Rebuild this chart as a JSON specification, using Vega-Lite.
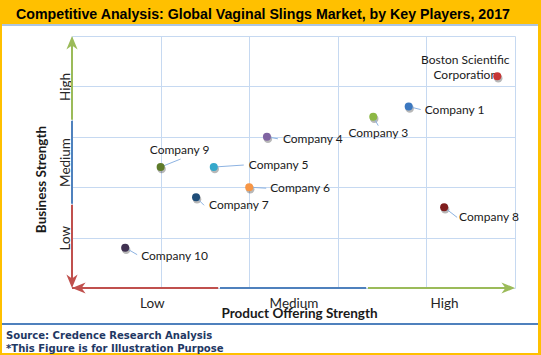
{
  "$schema": "https://vega.github.io/schema/vega-lite/v6.json",
  "width": 536,
  "height": 329,
  "autosize": {"type": "none"},
  "padding": {"left": 2, "top": 24, "right": 3, "bottom": 2},
  "background": "#FFC000",
  "config": {
    "view": {"fill": "white", "stroke": null},
    "text": {"font": "Lato", "fontSize": 12, "color": "#1a1a1a"}
  },
  "title": {
    "text": ["Source: Credence Research Analysis", "*This Figure is for Illustration Purpose"],
    "orient": "bottom",
    "anchor": "start",
    "frame": "group",
    "align": "left",
    "offset": -23,
    "dx": 4,
    "baseline": "top",
    "font": "DejaVu Sans Condensed",
    "fontSize": 11.2,
    "fontWeight": "bold",
    "color": "#1F3864",
    "lineHeight": 13
  },
  "datasets": {
    "companies": [
      {"name": "Boston Scientific\nCorporation", "x": 4.8, "y": 4.2},
      {"name": "Company 1", "x": 3.8, "y": 3.6},
      {"name": "Company 3", "x": 3.4, "y": 3.4},
      {"name": "Company 4", "x": 2.2, "y": 3.0},
      {"name": "Company 5", "x": 1.6, "y": 2.4},
      {"name": "Company 6", "x": 2.0, "y": 2.0},
      {"name": "Company 7", "x": 1.4, "y": 1.8},
      {"name": "Company 8", "x": 4.2, "y": 1.6},
      {"name": "Company 9", "x": 1.0, "y": 2.4},
      {"name": "Company 10", "x": 0.6, "y": 0.8}
    ],
    "arrows": [
      {"x": 0, "x2": 1.65, "y": 0, "y2": 0, "part": "low"},
      {"x": 1.67, "x2": 3.32, "y": 0, "y2": 0, "part": "medium"},
      {"x": 3.34, "x2": 4.9, "y": 0, "y2": 0, "part": "high"},
      {"x": 0, "x2": 0, "y": 0.05, "y2": 1.65, "part": "low"},
      {"x": 0, "x2": 0, "y": 1.67, "y2": 3.32, "part": "medium"},
      {"x": 0, "x2": 0, "y": 3.34, "y2": 4.9, "part": "high"}
    ],
    "heads": [
      {"x": 0, "y": 5, "dir": "up", "part": "high"},
      {"x": 5, "y": 0, "dir": "right", "part": "high"},
      {"x": 0, "y": 0, "dir": "down", "part": "low"},
      {"x": 0, "y": 0, "dir": "left", "part": "low"}
    ]
  },
  "resolve": {"axis": {"x": "independent", "y": "independent"}},
  "layer": [
    {
      "data": {"name": "companies"},
      "mark": {"type": "circle", "size": 72, "color": "black", "opacity": 0.28, "xOffset": 1, "yOffset": 2},
      "encoding": {
        "x": {
          "field": "x", "type": "quantitative",
          "scale": {"domain": [0, 5], "range": [70, 513], "nice": false, "zero": false},
          "axis": {
            "orient": "bottom", "offset": -65,
            "values": [0, 1, 2, 3, 4, 5],
            "labels": false, "domain": false, "title": null, "grid": false,
            "ticks": true, "tickSize": -252, "tickColor": "#C6D9F1", "tickWidth": 1
          }
        },
        "y": {
          "field": "y", "type": "quantitative",
          "scale": {"domain": [0, 5], "range": [264, 12], "nice": false, "zero": false},
          "axis": {
            "orient": "left", "offset": -70,
            "values": [0, 1, 2, 3, 4, 5],
            "labels": false, "domain": false, "title": null, "grid": false,
            "ticks": true, "tickSize": -443, "tickColor": "#C6D9F1", "tickWidth": 1
          }
        }
      }
    },
    {
      "data": {"values": [{}]},
      "mark": {"type": "rule", "color": "#4F81BD", "strokeWidth": 2},
      "encoding": {"y": {"datum": -0.714, "type": "quantitative", "axis": null}}
    },
    {
      "data": {"values": [{}]},
      "mark": {"type": "rule", "color": "#5B8BC5", "strokeWidth": 1},
      "encoding": {"y": {"datum": 5.218, "type": "quantitative", "axis": null}}
    },
    {
      "data": {"name": "companies"},
      "encoding": {
        "x": {"field": "x", "type": "quantitative", "axis": null},
        "y": {"field": "y", "type": "quantitative", "axis": null}
      },
      "layer": [
        {
          "transform": [{"filter": "indexof(datum.name, 'Boston') === 0"}],
          "mark": {"type": "text", "align": "center", "baseline": "middle", "dx": -32, "dy": -16.5, "lineBreak": "\n", "lineHeight": 15},
          "encoding": {"text": {"field": "name"}}
        },
        {
          "transform": [{"filter": "datum.name === 'Company 1'"}],
          "layer": [
            {"mark": {"type": "rule", "x2Offset": 12, "y2Offset": 3, "color": "#8DB3E2", "strokeWidth": 1}, "encoding": {"x2": {"field": "x"}, "y2": {"field": "y"}}},
            {"mark": {"type": "text", "align": "left", "baseline": "middle", "dx": 16, "dy": 3}, "encoding": {"text": {"field": "name"}}}
          ]
        },
        {
          "transform": [{"filter": "datum.name === 'Company 3'"}],
          "layer": [
            {"mark": {"type": "rule", "x2Offset": 5, "y2Offset": 9, "color": "#8DB3E2", "strokeWidth": 1}, "encoding": {"x2": {"field": "x"}, "y2": {"field": "y"}}},
            {"mark": {"type": "text", "align": "center", "baseline": "middle", "dx": 5, "dy": 16.5}, "encoding": {"text": {"field": "name"}}}
          ]
        },
        {
          "transform": [{"filter": "datum.name === 'Company 4'"}],
          "layer": [
            {"mark": {"type": "rule", "x2Offset": 11, "y2Offset": 2, "color": "#8DB3E2", "strokeWidth": 1}, "encoding": {"x2": {"field": "x"}, "y2": {"field": "y"}}},
            {"mark": {"type": "text", "align": "left", "baseline": "middle", "dx": 16, "dy": 2}, "encoding": {"text": {"field": "name"}}}
          ]
        },
        {
          "transform": [{"filter": "datum.name === 'Company 5'"}],
          "layer": [
            {"mark": {"type": "rule", "x2Offset": 30, "y2Offset": -2, "color": "#8DB3E2", "strokeWidth": 1}, "encoding": {"x2": {"field": "x"}, "y2": {"field": "y"}}},
            {"mark": {"type": "text", "align": "left", "baseline": "middle", "dx": 35, "dy": -2}, "encoding": {"text": {"field": "name"}}}
          ]
        },
        {
          "transform": [{"filter": "datum.name === 'Company 6'"}],
          "layer": [
            {"mark": {"type": "rule", "x2Offset": 17, "y2Offset": 1, "color": "#8DB3E2", "strokeWidth": 1}, "encoding": {"x2": {"field": "x"}, "y2": {"field": "y"}}},
            {"mark": {"type": "text", "align": "left", "baseline": "middle", "dx": 21, "dy": 1}, "encoding": {"text": {"field": "name"}}}
          ]
        },
        {
          "transform": [{"filter": "datum.name === 'Company 7'"}],
          "layer": [
            {"mark": {"type": "rule", "x2Offset": 8, "y2Offset": 8, "color": "#8DB3E2", "strokeWidth": 1}, "encoding": {"x2": {"field": "x"}, "y2": {"field": "y"}}},
            {"mark": {"type": "text", "align": "left", "baseline": "middle", "dx": 13, "dy": 8}, "encoding": {"text": {"field": "name"}}}
          ]
        },
        {
          "transform": [{"filter": "datum.name === 'Company 8'"}],
          "layer": [
            {"mark": {"type": "rule", "x2Offset": 13, "y2Offset": 10, "color": "#8DB3E2", "strokeWidth": 1}, "encoding": {"x2": {"field": "x"}, "y2": {"field": "y"}}},
            {"mark": {"type": "text", "align": "left", "baseline": "middle", "dx": 15, "dy": 10}, "encoding": {"text": {"field": "name"}}}
          ]
        },
        {
          "transform": [{"filter": "datum.name === 'Company 9'"}],
          "layer": [
            {"mark": {"type": "rule", "x2Offset": 20, "y2Offset": -8, "color": "#8DB3E2", "strokeWidth": 1}, "encoding": {"x2": {"field": "x"}, "y2": {"field": "y"}}},
            {"mark": {"type": "text", "align": "center", "baseline": "middle", "dx": 19, "dy": -17}, "encoding": {"text": {"field": "name"}}}
          ]
        },
        {
          "transform": [{"filter": "datum.name === 'Company 10'"}],
          "layer": [
            {"mark": {"type": "rule", "x2Offset": 12, "y2Offset": 7, "color": "#8DB3E2", "strokeWidth": 1}, "encoding": {"x2": {"field": "x"}, "y2": {"field": "y"}}},
            {"mark": {"type": "text", "align": "left", "baseline": "middle", "dx": 16, "dy": 8}, "encoding": {"text": {"field": "name"}}}
          ]
        },
        {
          "mark": {"type": "circle", "size": 64, "opacity": 1},
          "encoding": {
            "color": {
              "field": "name", "type": "nominal", "legend": null,
              "scale": {
                "domain": ["Boston Scientific\nCorporation", "Company 1", "Company 3", "Company 4", "Company 5", "Company 6", "Company 7", "Company 8", "Company 9", "Company 10"],
                "range": ["#C73636", "#3C78C0", "#8DB845", "#8064A2", "#35A8CB", "#F79646", "#1F4E79", "#7F1D1D", "#5E7B2A", "#403151"]
              }
            }
          }
        }
      ]
    },
    {
      "data": {"name": "arrows"},
      "mark": {"type": "rule", "strokeWidth": 2},
      "encoding": {
        "x": {
          "field": "x", "type": "quantitative",
          "axis": {
            "orient": "top", "offset": 0,
            "labels": false, "ticks": false, "domain": false, "grid": false,
            "title": "Competitive Analysis: Global Vaginal Slings Market, by Key Players, 2017",
            "titleFont": "Liberation Sans", "titleFontSize": 14.2, "titleFontWeight": "bold", "titleColor": "#000000",
            "titleX": 260.5, "titleY": -6, "titleBaseline": "alphabetic", "titleAlign": "center"
          }
        },
        "x2": {"field": "x2"},
        "y": {"field": "y", "type": "quantitative", "axis": null},
        "y2": {"field": "y2"},
        "stroke": {
          "field": "part", "type": "nominal", "legend": null,
          "scale": {"domain": ["low", "medium", "high"], "range": ["#C0504D", "#4F81BD", "#9BBB59"]}
        }
      }
    },
    {
      "data": {"name": "heads"},
      "mark": {"type": "point", "filled": true, "size": 256, "opacity": 1, "strokeWidth": 0},
      "encoding": {
        "x": {
          "field": "x", "type": "quantitative",
          "axis": {
            "orient": "bottom", "offset": -65,
            "values": [0.9, 2.5, 4.2],
            "labelExpr": "datum.value === 0.9 ? 'Low' : datum.value === 2.5 ? 'Medium' : 'High'",
            "labelFont": "Lato", "labelFontSize": 13.5, "labelColor": "#262626",
            "labelBaseline": "alphabetic", "labelAlign": "center", "labelPadding": 19,
            "labelOverlap": false, "labelFlush": false,
            "domain": false, "ticks": false, "grid": false,
            "title": "Product Offering Strength",
            "titleFont": "Lato", "titleFontSize": 13.5, "titleFontWeight": "bold", "titleColor": "#1a1a1a",
            "titleX": 297, "titleY": 29, "titleBaseline": "alphabetic", "titleAlign": "center"
          }
        },
        "y": {
          "field": "y", "type": "quantitative",
          "axis": {
            "orient": "left", "offset": -70,
            "values": [1, 2.5, 4],
            "labelExpr": "datum.value === 1 ? 'Low' : datum.value === 2.5 ? 'Medium' : 'High'",
            "labelAngle": 270, "labelAlign": "center", "labelBaseline": "alphabetic", "labelPadding": 3,
            "labelFont": "Lato", "labelFontSize": 13.5, "labelColor": "#262626",
            "labelOverlap": false, "labelFlush": false,
            "domain": false, "ticks": false, "grid": false,
            "title": "Business Strength",
            "titleFont": "Lato", "titleFontSize": 13.5, "titleFontWeight": "bold", "titleColor": "#1a1a1a",
            "titleAngle": 270, "titleX": -27, "titleY": 155, "titleBaseline": "alphabetic", "titleAlign": "center"
          }
        },
        "shape": {
          "field": "dir", "type": "nominal", "legend": null,
          "scale": {
            "domain": ["up", "down", "left", "right"],
            "range": ["M0,0L0.7,1.7L0,1.2L-0.7,1.7Z", "M0,0L0.7,-1.7L0,-1.2L-0.7,-1.7Z", "M0,0L1.7,-0.7L1.2,0L1.7,0.7Z", "M0,0L-1.7,-0.7L-1.2,0L-1.7,0.7Z"]
          }
        },
        "fill": {
          "field": "part", "type": "nominal", "legend": null,
          "scale": {"domain": ["low", "high"], "range": ["#C0504D", "#9BBB59"]}
        }
      }
    }
  ]
}
